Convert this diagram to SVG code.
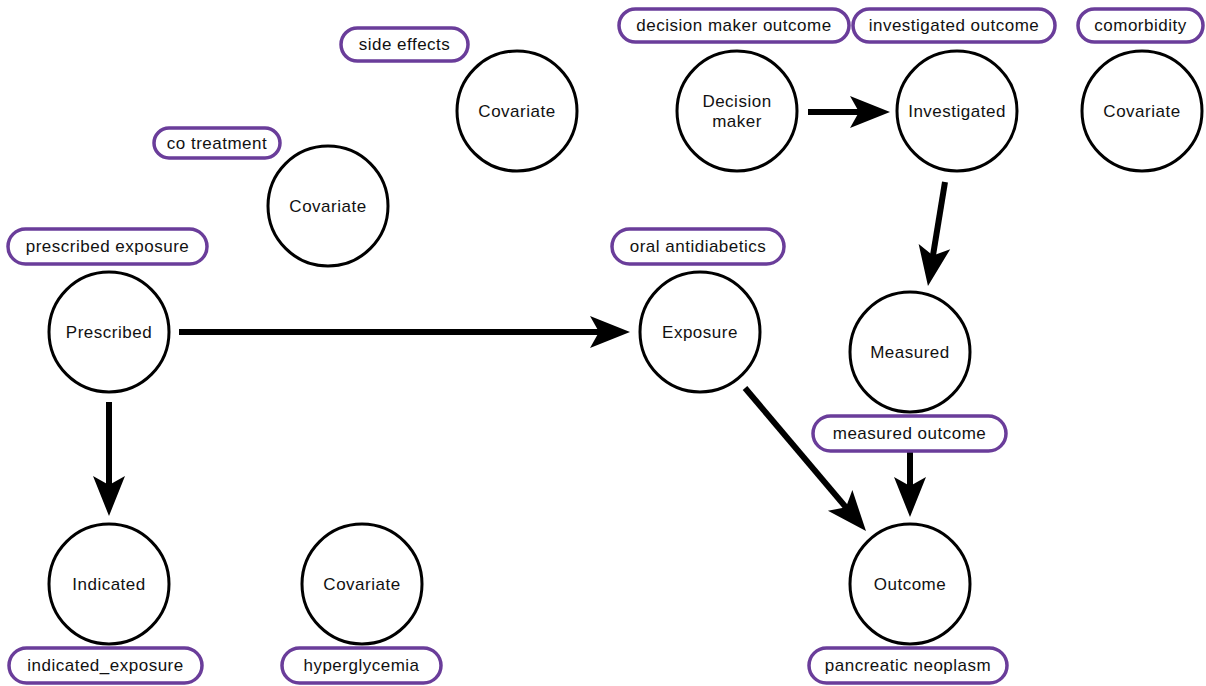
<svg xmlns="http://www.w3.org/2000/svg" width="1206" height="686" viewBox="0 0 1206 686">
<style>
.node circle{fill:#fff;stroke:#000;stroke-width:3}
.lbl rect{fill:#fff;stroke:#6a3d9a;stroke-width:3.5}
text{font-family:"Liberation Sans",Arial,sans-serif;font-size:17px;letter-spacing:0.5px;fill:#111;text-anchor:middle;dominant-baseline:central}
.edge{stroke:#000;stroke-width:6;fill:none;marker-end:url(#ah)}
</style>
<defs>
<marker id="ah" markerUnits="userSpaceOnUse" markerWidth="42" markerHeight="36" viewBox="0 -18 42 36" refX="12" refY="0" orient="auto">
<path d="M0,-16 L40,0 L0,16 L9,0 z" fill="#000"/>
</marker>
</defs>
<rect width="1206" height="686" fill="#fff"/>
<g id="connectors">
<line class="edge" x1="808" y1="112" x2="862" y2="112"/>
<line class="edge" x1="945" y1="182" x2="932.5" y2="258.4"/>
<line class="edge" x1="179" y1="332" x2="602" y2="332"/>
<line class="edge" x1="109" y1="402" x2="109" y2="488"/>
<line class="edge" x1="745" y1="388" x2="847.9" y2="509.6"/>
<line class="edge" x1="910" y1="452" x2="910" y2="489"/>
</g>
<g id="n-side" class="node"><circle cx="517" cy="111" r="60"/><text x="517" y="111">Covariate</text></g>
<g id="n-cotreat" class="node"><circle cx="328" cy="206" r="60"/><text x="328" y="206">Covariate</text></g>
<g id="n-decision" class="node"><circle cx="737" cy="111" r="60"/><text x="737" y="101">Decision</text><text x="737" y="121">maker</text></g>
<g id="n-investigated" class="node"><circle cx="957" cy="111" r="60"/><text x="957" y="111">Investigated</text></g>
<g id="n-comorb" class="node"><circle cx="1142" cy="111" r="60"/><text x="1142" y="111">Covariate</text></g>
<g id="n-prescribed" class="node"><circle cx="109" cy="332" r="60"/><text x="109" y="332">Prescribed</text></g>
<g id="n-exposure" class="node"><circle cx="700" cy="332" r="60"/><text x="700" y="332">Exposure</text></g>
<g id="n-measured" class="node"><circle cx="910" cy="352" r="60"/><text x="910" y="352">Measured</text></g>
<g id="n-indicated" class="node"><circle cx="109" cy="584" r="60"/><text x="109" y="584">Indicated</text></g>
<g id="n-hyper" class="node"><circle cx="362" cy="584" r="60"/><text x="362" y="584">Covariate</text></g>
<g id="n-outcome" class="node"><circle cx="910" cy="584" r="60"/><text x="910" y="584">Outcome</text></g>
<g id="l-side" class="lbl"><rect x="341" y="28" width="127" height="33" rx="16.5"/><text x="404.5" y="44.5">side effects</text></g>
<g id="l-decision" class="lbl"><rect x="619" y="9" width="230" height="33" rx="16.5"/><text x="734" y="25.5">decision maker outcome</text></g>
<g id="l-investigated" class="lbl"><rect x="853" y="9" width="202" height="33" rx="16.5"/><text x="954" y="25.5">investigated outcome</text></g>
<g id="l-comorb" class="lbl"><rect x="1078" y="9" width="125" height="33" rx="16.5"/><text x="1140.5" y="25.5">comorbidity</text></g>
<g id="l-cotreat" class="lbl"><rect x="154" y="128" width="126" height="30" rx="15"/><text x="217" y="143">co treatment</text></g>
<g id="l-prescribed" class="lbl"><rect x="8" y="229" width="199" height="35" rx="17.5"/><text x="107.5" y="246.5">prescribed exposure</text></g>
<g id="l-oral" class="lbl"><rect x="612" y="229" width="172" height="35" rx="17.5"/><text x="698" y="246.5">oral antidiabetics</text></g>
<g id="l-measured" class="lbl"><rect x="813" y="416" width="193" height="35" rx="17.5"/><text x="909.5" y="433.5">measured outcome</text></g>
<g id="l-indicated" class="lbl"><rect x="9" y="648" width="193" height="35" rx="17.5"/><text x="105.5" y="665.5">indicated_exposure</text></g>
<g id="l-hyper" class="lbl"><rect x="282" y="648" width="159" height="35" rx="17.5"/><text x="361.5" y="665.5">hyperglycemia</text></g>
<g id="l-outcome" class="lbl"><rect x="809" y="648" width="198" height="35" rx="17.5"/><text x="908" y="665.5">pancreatic neoplasm</text></g>
</svg>
